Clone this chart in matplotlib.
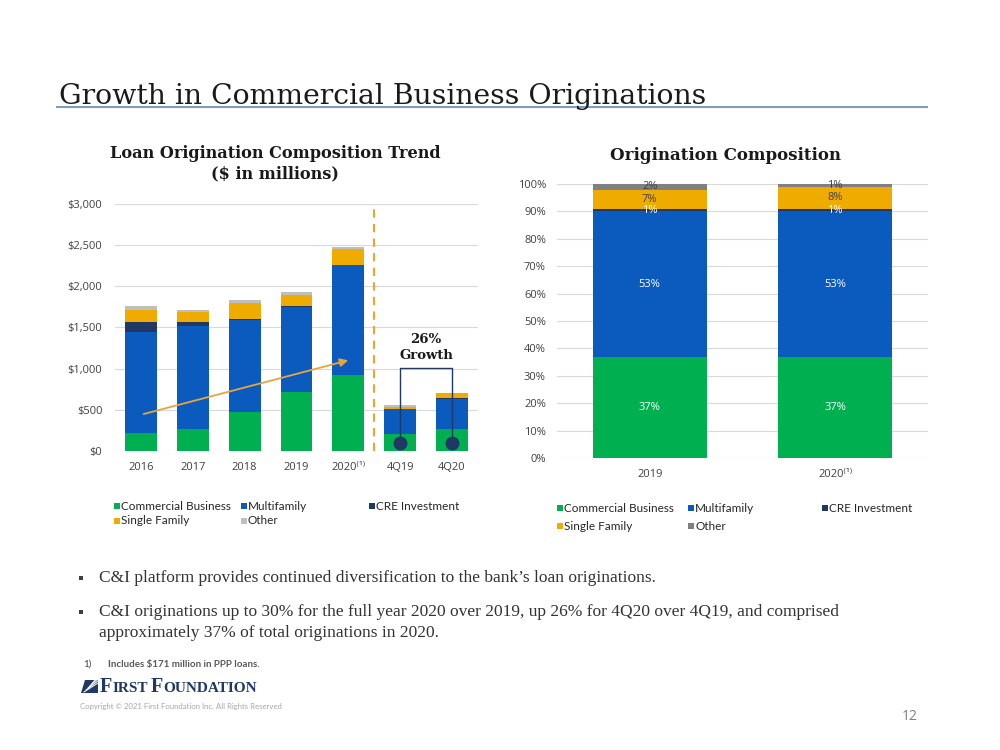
import matplotlib
matplotlib.use("Agg")
import matplotlib.pyplot as plt
from matplotlib.patches import Rectangle, Polygon
from matplotlib.lines import Line2D
import numpy as np

# ---- DATA ----
years = ["2016", "2017", "2018", "2019", "2020⁽¹⁾", "4Q19", "4Q20"]
commercial = [222, 262, 468, 711, 925, 210, 265]
multifamily = [1224, 1260, 1123, 1033, 1328, 295, 372]
cre = [117, 41, 10, 12, 8, 3, 8]
single_family = [145, 125, 197, 134, 198, 29, 57]
other = [56, 28, 36, 36, 24, 16, 8]

comp_years = ["2019", "2020⁽¹⁾"]
comp_commercial = [37, 37]
comp_multifamily = [53, 53]
comp_cre = [1, 1]
comp_single_family = [7, 8]
comp_other = [2, 1]

series_names = ["Commercial Business", "Multifamily", "CRE Investment",
                "Single Family", "Other"]

# ---- STYLE ----
GREEN = "#00B050"
BLUE = "#0A5BBD"
NAVY = "#1F3864"
GOLD = "#F0AB00"
GRAY_L = "#BFBFBF"
GRAY_D = "#808080"
TXT = "#595959"
SANS = ["Open Sans", "DejaVu Sans"]
LEG = ["Lato", "DejaVu Sans"]
SERIF = ["DejaVu Serif"]

plt.rcParams["font.family"] = SANS

fig = plt.figure(figsize=(10, 7.5), dpi=100)
W, H = 1000, 750


def fx(px):
    return px / W


def fy(py):
    return 1 - py / H


# ---- PAGE TITLE ----
fig.text(fx(59), fy(104), "Growth in Commercial Business Originations",
         family=SERIF, fontsize=20.3, color="#1A1A1A", va="baseline")
fig.add_artist(Line2D([fx(57), fx(927)], [fy(107), fy(107)],
                      color="#7E9FBB", lw=1.5))

# ============================================================
# LEFT: stacked $ bars
# ============================================================
ax1 = fig.add_axes([0.115, 0.3987, 0.363, 0.3293])
x = np.arange(len(years))
left_series = [commercial, multifamily, cre, single_family, other]
left_colors = [GREEN, BLUE, NAVY, GOLD, GRAY_L]
bottom = np.zeros(len(years))
for vals, col in zip(left_series, left_colors):
    ax1.bar(x, vals, bottom=bottom, width=0.615, color=col,
            edgecolor="none", zorder=2)
    bottom += np.array(vals)

ax1.set_xlim(-0.5, len(years) - 0.5)
ax1.set_ylim(0, 3000)
ax1.set_yticks(range(0, 3001, 500))
ax1.set_yticklabels([f"${v:,}" for v in range(0, 3001, 500)])
ax1.set_xticks(x)
ax1.set_xticklabels(years)
ax1.grid(axis="y", color="#D9D9D9", lw=0.8, zorder=0)
ax1.set_axisbelow(True)
for s in ax1.spines.values():
    s.set_visible(False)
ax1.tick_params(length=0, labelsize=8, labelcolor="#404040")
ax1.tick_params(axis="y", pad=9)
ax1.tick_params(axis="x", pad=8)

# split line between annual and quarterly
ax1.axvline(4.5, color="#EDA52E", lw=1.5, ls=(0, (4, 3)), zorder=3)
# trend arrow
ax1.annotate("", xy=(4.05, 1110), xytext=(0, 440),
             arrowprops=dict(arrowstyle="-|>", color="#E9A43A", lw=1.3,
                             mutation_scale=12), zorder=4)
# growth bracket
ax1.plot([5, 5, 6, 6], [100, 1010, 1010, 100], color=NAVY, lw=1, zorder=4)
ax1.plot([5, 6], [100, 100], "o", color=NAVY, ms=9, zorder=5)
ax1.text(5.5, 1255, "26%\nGrowth", ha="center", va="center",
         family=SERIF, fontsize=9.5, fontweight="bold", color="#1A1A1A",
         linespacing=1.25)

fig.text(fx(275), fy(164), "Loan Origination Composition Trend\n($ in millions)",
         ha="center", va="center", family=SERIF, fontsize=11.6,
         fontweight="bold", color="#1A1A1A", linespacing=1.25)

# ============================================================
# RIGHT: 100% composition
# ============================================================
ax2 = fig.add_axes([0.557, 0.3893, 0.371, 0.3653])
x2 = np.arange(len(comp_years))
right_series = [comp_commercial, comp_multifamily, comp_cre,
                comp_single_family, comp_other]
right_colors = [GREEN, BLUE, NAVY, GOLD, GRAY_D]
label_colors = ["white", "white", "white", "#404040", "#404040"]
bottom = np.zeros(len(comp_years))
for vals, col, lc in zip(right_series, right_colors, label_colors):
    ax2.bar(x2, vals, bottom=bottom, width=0.615, color=col,
            edgecolor="none", zorder=2)
    for xi, b, v in zip(x2, bottom, vals):
        ax2.text(xi, b + v / 2, f"{v}%", ha="center", va="center",
                 fontsize=8, color=lc, zorder=3)
    bottom += np.array(vals)

ax2.set_xlim(-0.5, len(comp_years) - 0.5)
ax2.set_ylim(0, 100)
ax2.set_yticks(range(0, 101, 10))
ax2.set_yticklabels([f"{v}%" for v in range(0, 101, 10)])
ax2.set_xticks(x2)
ax2.set_xticklabels(comp_years)
ax2.grid(axis="y", color="#D9D9D9", lw=0.8, zorder=0)
ax2.set_axisbelow(True)
for s in ax2.spines.values():
    s.set_visible(False)
ax2.tick_params(length=0, labelsize=8, labelcolor="#404040")
ax2.tick_params(axis="y", pad=8)
ax2.tick_params(axis="x", pad=8)

fig.text(fx(725), fy(156), "Origination Composition", ha="center",
         va="center", family=SERIF, fontsize=12, fontweight="bold",
         color="#1A1A1A")


# ---- LEGENDS (manual, to match column placement) ----
def draw_legend(slots, colors):
    for (sx, sy), name, col in zip(slots, series_names, colors):
        fig.add_artist(Rectangle((fx(sx), fy(sy + 3)), 6 / W, 6 / H,
                                 transform=fig.transFigure, color=col,
                                 lw=0))
        fig.text(fx(sx + 7), fy(sy), name, family=LEG, fontsize=8.5,
                 color="#262626", va="center")


draw_legend([(114, 506), (241, 506), (369, 506), (114, 521), (241, 521)],
            left_colors)
draw_legend([(557, 508), (688, 508), (822, 508), (557, 526), (688, 526)],
            right_colors)

# ---- BULLETS ----
bullet_lines = [
    (578, "C&I platform provides continued diversification to the bank’s loan originations.", True),
    (612, "C&I originations up to 30% for the full year 2020 over 2019, up 26% for 4Q20 over 4Q19, and comprised", True),
    (633, "approximately 37% of total originations in 2020.", False),
]
for by, line, has_bullet in bullet_lines:
    if has_bullet:
        fig.add_artist(Rectangle((fx(79), fy(by + 2)), 4 / W, 4 / H,
                                 transform=fig.transFigure, color="#404040",
                                 lw=0))
    fig.text(fx(99), fy(by), line, family=["Liberation Serif"],
             fontsize=12.5, color="#333333", va="center")

# ---- FOOTNOTE / LOGO / FOOTER ----
fig.text(fx(83), fy(664), "1)", family=LEG, fontsize=7, color="#404040",
         va="center")
fig.text(fx(108), fy(664), "Includes $171 million in PPP loans.",
         family=LEG, fontsize=7, fontweight="bold", color=TXT, va="center")

# logo mark
fig.add_artist(Polygon([[fx(81), fy(693)], [fx(85), fy(680)], [fx(98), fy(680)],
                        [fx(98), fy(693)]], closed=True,
                       transform=fig.transFigure, color=NAVY, lw=0))
for k in range(4):
    fig.add_artist(Line2D([fx(84 + 2 * k), fx(98)],
                          [fy(692 - 2 * k), fy(683 - 2.2 * k)],
                          color="white", lw=0.7))

renderer = fig.canvas.get_renderer()
pos = fx(100)
for piece, size in [("F", 14.5), ("IRST", 11), (" ", 9), ("F", 14.5),
                    ("OUNDATION", 11)]:
    t = fig.text(pos, fy(692), piece, family=["Liberation Serif"],
                 fontsize=size, fontweight="bold", color=NAVY,
                 va="baseline")
    bb = t.get_window_extent(renderer=renderer)
    pos += bb.width / W

fig.text(fx(80), fy(706), "Copyright © 2021 First Foundation Inc. All Rights Reserved",
         family=LEG, fontsize=5.6, color="#A6A6A6", va="center")
fig.text(fx(918), fy(717), "12", fontsize=10, color="#808080",
         ha="right", va="center")

fig.savefig("out.png", dpi=100, facecolor="white")
